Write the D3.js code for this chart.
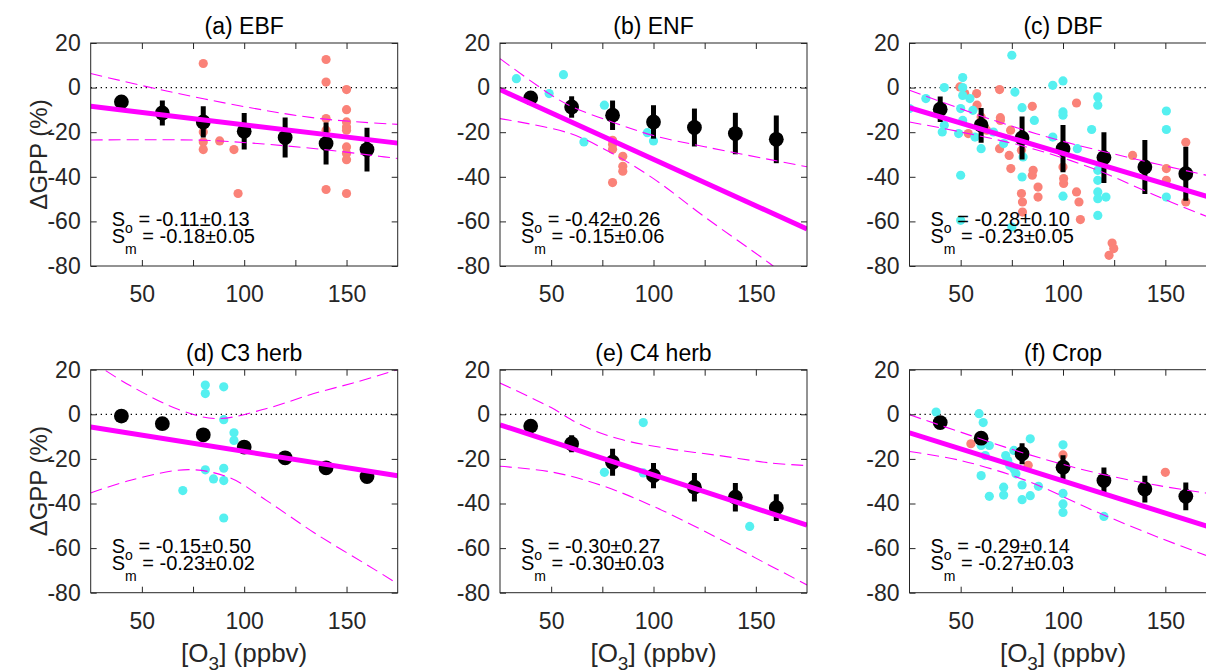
<!DOCTYPE html>
<html>
<head>
<meta charset="utf-8">
<script src="https://cdn.jsdelivr.net/npm/d3@7"></script>
<style>
  body { margin: 0; background: #fff; }
  svg { font-family: "Liberation Sans", Arial, Helvetica, sans-serif; }
</style>
</head>
<body>
<svg id="chart" width="1206" height="670"></svg>
<script>
// ---- data ----
const xBins = [40, 60, 80, 100, 120, 140, 160];
const xTicks = [50, 75, 100, 125, 150];
const xTickLabels = {50: "50", 100: "100", 150: "150"};
const yTicks = [20, 0, -20, -40, -60, -80];
const panelTitles = ["(a) EBF", "(b) ENF", "(c) DBF", "(d) C3 herb", "(e) C4 herb", "(f) Crop"];
const slopeObs = ["-0.11\u00b10.13", "-0.42\u00b10.26", "-0.28\u00b10.10", "-0.15\u00b10.50", "-0.30\u00b10.27", "-0.29\u00b10.14"];
const slopeMod = ["-0.18\u00b10.05", "-0.15\u00b10.06", "-0.23\u00b10.05", "-0.23\u00b10.02", "-0.30\u00b10.03", "-0.27\u00b10.03"];

// binned model means and spread
const ebfMean = [-6.4, -11.4, -15.4, -19.6, -22.4, -25.1, -27.8];
const ebfErr  = [2.5, 5.6, 7, 8.2, 9, 9.4, 9.8];
const enfMean = [-4.6, -8.7, -12.4, -15.4, -17.9, -20.6, -23.2];
const enfErr  = [1.5, 4.8, 6.6, 7.5, 8.5, 9.3, 10.7];
const dbfMean = [-9.7, -16.9, -22.6, -27.4, -31.4, -35.6, -38.6];
const dbfErr  = [5.7, 7.8, 9.6, 10.6, 11.4, 12.1, 12.1];
const c3Mean  = [-0.8, -4.2, -9.2, -14.7, -19.5, -24.0, -27.9];
const c3Err   = [1.5, 1.5, 2, 2, 2, 2.2, 2.3];
const c4Mean  = [-5.3, -13.2, -21.5, -27.5, -32.7, -37.2, -41.9];
const c4Err   = [1, 3.8, 6, 5.7, 6.4, 6.4, 6];
const cropMean = [-3.7, -10.7, -17.7, -23.7, -29.7, -33.5, -36.8];
const cropErr  = [1.5, 2, 4.7, 5.3, 5.8, 6, 6.2];

// observations (salmon and cyan groups)
const ebfSalmon = [[80,10.8],[80,-19.9],[80,-24.4],[80,-27.8],[88,-23.9],[95,-27.8],[97,-47.5],[140,12.6],[140,2.5],[140,-13.9],[140,-19.1],[140,-45.7],[150,-0.9],[150,-9.9],[150,-15.4],[150,-17.7],[150,-19.1],[150,-26.6],[150,-29.6],[150,-32.3],[150,-47.5]];
const ebfCyan = [];
const enfSalmon = [[80,-23.6],[80,-25.5],[80,-27.7],[85,-30.8],[85,-35.3],[85,-37.5],[80,-42.6]];
const enfCyan = [[33,4],[49,-2.7],[56,5.8],[66,-24.4],[76,-7.9],[97,-20.2],[100,-23.9]];
const dbfSalmon = [[49.6,0.3],[52,-2.7],[53.7,-20.6],[57.8,-2.7],[58,-7.9],[60,-13.2],[62.7,-19.1],[69,-0.9],[69.4,-13.5],[69.4,-14.7],[69,-27.4],[73.7,-30.4],[74.4,-19.1],[74.5,-36.3],[79.7,-28.1],[79.7,-47.5],[80.2,-51.3],[80.2,-55.8],[85,-8.4],[85,-39.3],[85.4,-37.1],[87.8,-44.6],[87.8,-49.1],[100,-35.6],[100.3,-40.8],[100.3,-43],[106.6,-6.9],[106.6,-46.8],[107.8,-51.3],[108.5,-59.2],[122.5,-75.2],[124,-69.7],[124.8,-72.2],[134,-30.4],[150.5,-36.3],[150.5,-41.6],[160,-24.5],[160,-51.3]];
const dbfCyan = [[25,-9.4],[33,-4.9],[42,0],[41,-19.9],[42,-16.9],[51,4.5],[51,0],[51,-3.5],[50,-9.4],[51,-14.7],[54.5,-4.9],[49,-20.6],[50,-39.3],[50,-59.5],[56,-10.2],[57,-22.2],[60,-27.4],[66,-19.9],[71,-25.1],[75,14.5],[76.5,-2],[80,-9],[80,-40.1],[80.5,-31.1],[75,-62.5],[86,-14.7],[95,-22.2],[95,1],[100,3],[100,-10.9],[100,-12.4],[100,-48.7],[107,-27.4],[114,-18.8],[117,-4.2],[117,-7.9],[117,-37.1],[117,-41.6],[117,-46.8],[117,-49.8],[117,-57.3],[121,-49.1],[150.5,-10.5],[150.5,-18.8],[150.5,-49.1]];
const c3Salmon = [];
const c3Cyan = [[81,13.1],[81,9.3],[90,12.3],[90,-2.4],[95,-8.3],[95,-11.7],[70,-34.2],[81,-24.9],[85,-29],[90,-24.2],[90,-29.7],[90,-46.5]];
const c4Salmon = [];
const c4Cyan = [[95,-3.7],[76,-26],[95,-26.3],[147,-50.3]];
const cropSalmon = [[55,-13.2],[83,-22.9],[100,-18.2],[150,-26]];
const cropCyan = [[38,1],[59,0.3],[61,-3.7],[60,-14],[64,-14],[62,-18.5],[60,-27.5],[64,-36.8],[71,-32.7],[71,-36.2],[72,-18.5],[73,-20.7],[74,-23],[76,-24.5],[77,-26.7],[76,-16.2],[80,-31.7],[80,-38.3],[84,-36.5],[84,-11],[88,-32.3],[100,-13.7],[100,-35.5],[100,-40.2],[100,-44],[120,-45.8]];

// fitted line (end points) and dashed confidence bounds
const ebfFit = [[25,-8.4],[175,-24.9]];
const ebfUpper = [[25,6.3],[59,-0.9],[101,-8.7],[137,-13.9],[175,-16.5]];
const ebfLower = [[25,-23.5],[52,-23.4],[85,-23.8],[135,-27.4],[166,-30.8],[175,-31.8]];
const enfFit = [[25,-0.9],[175,-63.4]];
const enfUpper = [[25,13],[49,-2.7],[60,-8.5],[80,-15.5],[100,-21.5],[125,-26.5],[157,-32.3],[175,-35.5]];
const enfLower = [[25,-13.9],[59,-20.5],[80,-29.6],[100,-40.8],[125,-58],[157,-79],[175,-92]];
const dbfFit = [[25,-9],[175,-50.1]];
const dbfUpper = [[25,-1.2],[66,-14.6],[98,-23.6],[131,-31.1],[170,-39.3],[175,-40.3]];
const dbfLower = [[25,-15.4],[50,-19.9],[82,-26.6],[115,-36.4],[147,-49.1],[170,-57.7],[175,-59.5]];
const c3Fit = [[25,-5.7],[175,-27.6]];
const c3Upper = [[25,24],[44,13],[69,1.8],[87,-1.9],[111,2.6],[134,9.3],[155,14.5],[175,20]];
const c3Lower = [[25,-35.3],[44,-29.7],[73,-24.8],[93,-28.5],[111,-38.7],[134,-53],[163,-69.2],[175,-76]];
const c4Fit = [[25,-4.7],[175,-49.7]];
const c4Upper = [[25,14],[50,3],[64,-4.5],[83,-11],[108,-15.5],[132,-18.5],[157,-21.8],[175,-23]];
const c4Lower = [[25,-23.3],[51,-26],[75,-32],[99,-40.9],[124,-52],[150,-64.5],[175,-76.5]];
const cropFit = [[25,-8.3],[175,-51.5]];
const cropUpper = [[25,-0.2],[50,-8],[82,-17.7],[115,-26],[147,-32],[175,-36]];
const cropLower = [[25,-16.7],[50,-20.7],[82,-29.7],[115,-43.2],[147,-55.3],[175,-65]];

const panels = [
  {mean: ebfMean, err: ebfErr, salmon: ebfSalmon, cyan: ebfCyan, fit: ebfFit, upper: ebfUpper, lower: ebfLower},
  {mean: enfMean, err: enfErr, salmon: enfSalmon, cyan: enfCyan, fit: enfFit, upper: enfUpper, lower: enfLower},
  {mean: dbfMean, err: dbfErr, salmon: dbfSalmon, cyan: dbfCyan, fit: dbfFit, upper: dbfUpper, lower: dbfLower},
  {mean: c3Mean, err: c3Err, salmon: c3Salmon, cyan: c3Cyan, fit: c3Fit, upper: c3Upper, lower: c3Lower},
  {mean: c4Mean, err: c4Err, salmon: c4Salmon, cyan: c4Cyan, fit: c4Fit, upper: c4Upper, lower: c4Lower},
  {mean: cropMean, err: cropErr, salmon: cropSalmon, cyan: cropCyan, fit: cropFit, upper: cropUpper, lower: cropLower}
];

// ---- layout ----
const colLeft = [90.7, 500, 909.5];
const rowTop = [43, 369.7];
const W = 307, H = 223;
const axisColor = "#262626";
const salmonColor = "#fa8278";
const cyanColor = "#55f0f0";
const magenta = "#ff00ff";

const svg = d3.select("#chart");
svg.append("rect").attr("width", 1206).attr("height", 670).attr("fill", "#fff");

panels.forEach(function(p, i) {
  const col = i % 3, row = Math.floor(i / 3);
  const g = svg.append("g").attr("transform", "translate(" + colLeft[col] + "," + rowTop[row] + ")");

  const x = d3.scaleLinear().domain([25, 175]).range([0, W]);
  const y = d3.scaleLinear().domain([-80, 20]).range([H, 0]);

  const clipId = "clip" + i;
  g.append("clipPath").attr("id", clipId)
    .append("rect").attr("width", W).attr("height", H);

  const plot = g.append("g").attr("clip-path", "url(#" + clipId + ")");

  // zero line
  plot.append("line")
    .attr("x1", x(25)).attr("x2", x(175))
    .attr("y1", y(0)).attr("y2", y(0))
    .attr("stroke", "#000").attr("stroke-width", 1.2)
    .attr("stroke-dasharray", "1.3,3.7");

  // observations
  plot.selectAll("circle.salmon").data(p.salmon).enter().append("circle")
    .attr("class", "salmon")
    .attr("cx", d => x(d[0])).attr("cy", d => y(d[1]))
    .attr("r", 4.6).attr("fill", salmonColor);
  plot.selectAll("circle.cyan").data(p.cyan).enter().append("circle")
    .attr("class", "cyan")
    .attr("cx", d => x(d[0])).attr("cy", d => y(d[1]))
    .attr("r", 4.6).attr("fill", cyanColor);

  // model means with spread
  const bins = xBins.map((b, k) => ({x: b, m: p.mean[k], e: p.err[k]}));
  plot.selectAll("line.err").data(bins).enter().append("line")
    .attr("class", "err")
    .attr("x1", d => x(d.x)).attr("x2", d => x(d.x))
    .attr("y1", d => y(d.m - d.e)).attr("y2", d => y(d.m + d.e))
    .attr("stroke", "#000").attr("stroke-width", 5);
  plot.selectAll("circle.mean").data(bins).enter().append("circle")
    .attr("class", "mean")
    .attr("cx", d => x(d.x)).attr("cy", d => y(d.m))
    .attr("r", 7.4).attr("fill", "#000");

  // fit and bounds
  const curve = d3.line().x(d => x(d[0])).y(d => y(d[1])).curve(d3.curveCatmullRom);
  [p.upper, p.lower].forEach(function(band) {
    plot.append("path").datum(band)
      .attr("fill", "none").attr("stroke", magenta)
      .attr("stroke-width", 1.1).attr("stroke-dasharray", "12,6")
      .attr("d", curve);
  });
  plot.append("path").datum(p.fit)
    .attr("fill", "none").attr("stroke", magenta)
    .attr("stroke-width", 5)
    .attr("d", d3.line().x(d => x(d[0])).y(d => y(d[1])));

  // box + inward ticks
  g.append("rect").attr("width", W).attr("height", H)
    .attr("fill", "none").attr("stroke", axisColor).attr("stroke-width", 1);

  const bottom = g.append("g").attr("transform", "translate(0," + H + ")")
    .call(d3.axisBottom(x).tickValues(xTicks).tickSizeInner(-6).tickSizeOuter(0)
      .tickPadding(20).tickFormat(d => xTickLabels[d] || ""));
  const top = g.append("g")
    .call(d3.axisTop(x).tickValues(xTicks).tickSizeInner(-6).tickSizeOuter(0).tickFormat(""));
  const left = g.append("g")
    .call(d3.axisLeft(y).tickValues(yTicks).tickSizeInner(-6).tickSizeOuter(0)
      .tickPadding(10).tickFormat(d => String(d)));
  const right = g.append("g").attr("transform", "translate(" + W + ",0)")
    .call(d3.axisRight(y).tickValues(yTicks).tickSizeInner(-6).tickSizeOuter(0).tickFormat(""));

  [bottom, top, left, right].forEach(function(a) {
    a.select(".domain").remove();
    a.selectAll(".tick line").attr("stroke", axisColor);
    a.selectAll(".tick text").attr("fill", axisColor)
      .attr("font-size", 23).attr("font-family", "Liberation Sans, Arial, sans-serif");
  });

  // title
  g.append("text")
    .attr("x", W / 2).attr("y", -9)
    .attr("text-anchor", "middle")
    .attr("font-size", 23).attr("fill", "#000")
    .text(panelTitles[i]);

  // slope annotations
  const t1 = g.append("text").attr("x", 21).attr("y", H - 40)
    .attr("font-size", 20).attr("fill", "#000");
  t1.append("tspan").text("S");
  t1.append("tspan").attr("font-size", 14).attr("dy", 7).text("o");
  t1.append("tspan").attr("dy", -7).text(" = " + slopeObs[i]);

  const t2 = g.append("text").attr("x", 21).attr("y", H - 23)
    .attr("font-size", 20).attr("fill", "#000");
  t2.append("tspan").text("S");
  t2.append("tspan").attr("font-size", 14).attr("dy", 11).text("m");
  t2.append("tspan").attr("dy", -11).text(" = " + slopeMod[i]);

  // axis labels
  if (col === 0) {
    g.append("text")
      .attr("transform", "translate(" + (47 - colLeft[0]) + "," + (H / 2) + ") rotate(-90)")
      .attr("text-anchor", "middle")
      .attr("font-size", 24).attr("fill", axisColor)
      .text("\u0394GPP (%)");
  }
  if (row === 1) {
    const xl = g.append("text")
      .attr("x", W / 2).attr("y", H + 69.5)
      .attr("text-anchor", "middle")
      .attr("font-size", 26).attr("fill", axisColor);
    xl.append("tspan").text("[O");
    xl.append("tspan").attr("font-size", 19).attr("dy", 8).text("3");
    xl.append("tspan").attr("dy", -8).text("] (ppbv)");
  }
});
</script>
</body>
</html>
